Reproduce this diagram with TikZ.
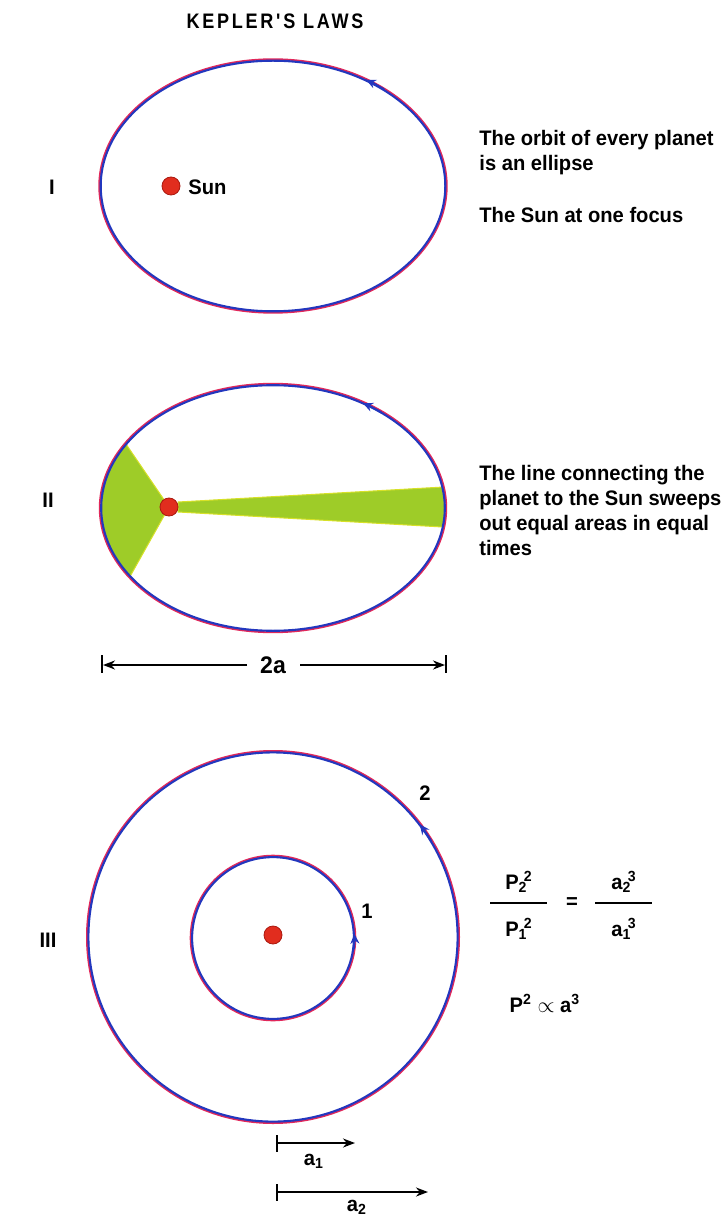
\documentclass[tikz,border=0pt]{standalone}
\usepackage{fontspec}
\usepackage{amsmath}
\setmainfont{Liberation Sans}[FakeStretch=0.96]
\newfontfamily\titlefont{Liberation Sans}[FakeStretch=0.86, LetterSpace=13]
\usetikzlibrary{arrows.meta,calc}
\definecolor{orbblue}{RGB}{35,55,190}
\definecolor{orbred}{RGB}{225,40,90}
\definecolor{sunred}{RGB}{225,45,30}
\definecolor{sundark}{RGB}{170,25,15}
\definecolor{wedgegreen}{RGB}{158,204,40}
\definecolor{wedgeedge}{RGB}{215,225,40}
\tikzset{
  lbl/.style={font=\fontsize{10.5}{12.5}\selectfont\bfseries, inner sep=0pt},
  ttl/.style={font=\titlefont\fontsize{10.5}{12}\selectfont\bfseries, inner sep=0pt},
  orbR/.style={draw=orbred, line width=0.9pt},
  orbB/.style={draw=orbblue, line width=1.05pt},
  orbarrow/.style={draw=orbblue, line width=1pt, -{Stealth[length=5pt,width=4.5pt]}},
  sunball/.style={circle, fill=sunred, draw=sundark, line width=0.4pt, minimum size=9pt, inner sep=0pt},
  wedge/.style={fill=wedgegreen, draw=wedgeedge, line width=0.5pt},
  dimline/.style={line width=1pt, -{Stealth[length=6pt,width=4.5pt]}},
  barline/.style={line width=1pt},
  fracbar/.style={line width=1pt}
}
\begin{document}
\begin{tikzpicture}[x=0.5pt,y=-0.5pt]
\useasboundingbox (0,0) rectangle (725,1224);

% title
\node[ttl] (title) at (275,21) {KEPLER'S LAWS};

% ---------- Law I ----------
\coordinate (c1) at (273,186);
\draw[orbR] (c1) ellipse[x radius=173.8, y radius=126.8];
\draw[orbB] (c1) ellipse[x radius=172.3, y radius=125.3];
\draw[orbarrow] ($(c1)+(-50:173 and 126)$) arc[start angle=-50, end angle=-57.5, x radius=173, y radius=126];
\node[sunball] (sun1) at (171,186) {};
\node[lbl, anchor=west] (sunlbl) at (188,187) {Sun};
\node[lbl] (r1) at (52,187) {I};
\node[lbl, anchor=west, align=left] (t1) at (479,153) {The orbit of every planet\\is an ellipse};
\node[lbl, anchor=west] (t2) at (479,215) {The Sun at one focus};

% ---------- Law II ----------
\coordinate (c2) at (273,508);
\fill[wedge] (169,507) -- ($(c2)+(211.3:172 and 123)$) arc[start angle=211.3, end angle=146.2, x radius=172, y radius=123] -- cycle;
\fill[wedge] (178,502) -- ($(c2)+(-9.8:172 and 123)$) arc[start angle=-9.8, end angle=8.9, x radius=172, y radius=123] -- (178,512) -- cycle;
\draw[orbR] (c2) ellipse[x radius=173.3, y radius=124.3];
\draw[orbB] (c2) ellipse[x radius=171.8, y radius=122.8];
\draw[orbarrow] ($(c2)+(-51:172 and 123)$) arc[start angle=-51, end angle=-58.5, x radius=172, y radius=123];
\node[sunball] (sun2) at (169,507) {};
\node[lbl] (r2) at (48,500) {II};
\node[lbl, anchor=west, align=left] (t3) at (479,510) {The line connecting the\\planet to the Sun sweeps\\out equal areas in equal\\times};

% 2a dimension
\node[lbl, font=\fontsize{12}{14}\selectfont\bfseries] (twoa) at (273,665) {2a};
\coordinate (la) at (247,665);
\coordinate (lb) at (103,665);
\coordinate (ra) at (300,665);
\coordinate (rb) at (445,665);
\draw[dimline] (la) -- (lb);
\draw[dimline] (ra) -- (rb);
\draw[barline] (102,655) -- (102,673);
\draw[barline] (446,655) -- (446,673);

% ---------- Law III ----------
\coordinate (c3) at (273,937);
\draw[orbR] (c3) circle[radius=186.1];
\draw[orbB] (c3) circle[radius=184.6];
\draw[orbarrow] ($(c3)+(-31:185)$) arc[start angle=-31, end angle=-37.5, radius=185];
\coordinate (c4) at (273,938);
\draw[orbR] (c4) circle[radius=82.4];
\draw[orbB] (c4) circle[radius=80.9];
\draw[orbarrow] ($(c4)+(8:81.5)$) arc[start angle=8, end angle=-3, radius=81.5];
\node[sunball] (sun3) at (273,935) {};
\node[lbl] (r3) at (48,940) {III};
\node[lbl] (n1) at (367,911) {1};
\node[lbl] (n2) at (425,793) {2};

% formula
\node[lbl] (p2) at (519,882) {$\text{P}_{\text{2}}\mkern-3mu{}^{\text{2}}$};
\node[lbl] (p1) at (519,929) {$\text{P}_{\text{1}}\mkern-3mu{}^{\text{2}}$};
\node[lbl] (a2) at (624,882) {$\text{a}_{\text{2}}\mkern-3mu{}^{\text{3}}$};
\node[lbl] (a1) at (624,929) {$\text{a}_{\text{1}}\mkern-3mu{}^{\text{3}}$};
\node[lbl] (eq) at (572,903) {=};
\draw[fracbar] (490,903) -- (547,903);
\draw[fracbar] (595,903) -- (652,903);
\node[lbl] (prop) at (545,1003) {P$^{\text{2}}$ $\propto$ a$^{\text{3}}$};

% a1, a2
\coordinate (a1s) at (277,1143);
\coordinate (a1e) at (355,1143);
\coordinate (a2s) at (277,1192);
\coordinate (a2e) at (428,1192);
\draw[barline] (277,1135) -- (277,1152);
\draw[barline] (277,1184) -- (277,1201);
\draw[dimline] (a1s) -- (a1e);
\draw[dimline] (a2s) -- (a2e);
\node[lbl] (la1) at (314,1161) {a$_{\text{1}}$};
\node[lbl] (la2) at (357,1207) {a$_{\text{2}}$};
\end{tikzpicture}
\end{document}
